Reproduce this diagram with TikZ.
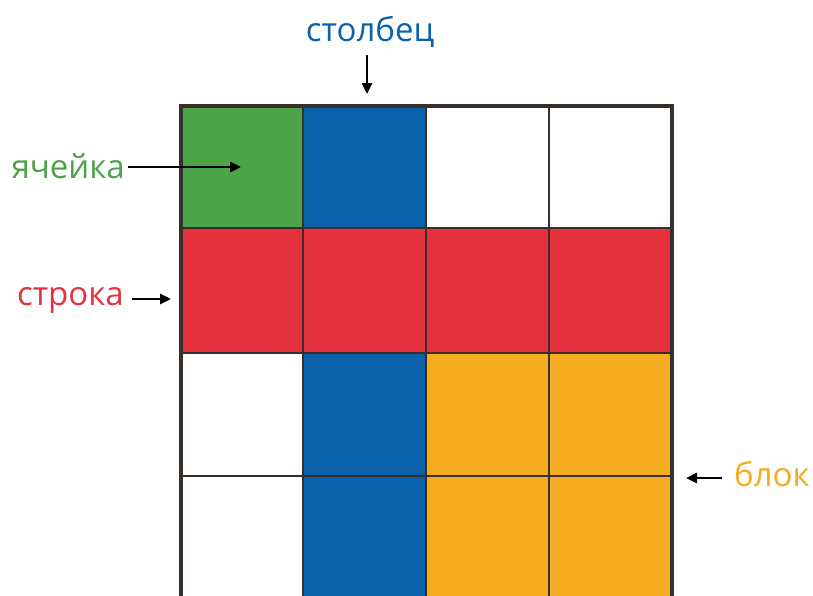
\documentclass[tikz,border=0pt]{standalone}
\usepackage{fontspec}
\setmainfont{Open Sans}
\usetikzlibrary{arrows.meta}
\definecolor{cgreen}{RGB}{76,164,72}
\definecolor{cblue}{RGB}{10,98,172}
\definecolor{cred}{RGB}{229,50,62}
\definecolor{corange}{RGB}{245,172,31}
\definecolor{cline}{RGB}{58,46,42}
\tikzset{
  lbl/.style={font=\fontsize{33}{38}\selectfont, inner sep=0pt},
  pointer/.style={-{Triangle[length=11pt,width=10pt]}, line width=2.6pt, black},
  thin grid/.style={cline, line width=1.6pt},
  outer/.style={cline, line width=3.5pt}
}
\begin{document}
\begin{tikzpicture}[x=1pt,y=-1pt]
\useasboundingbox (0,0) rectangle (813,595);
\begin{scope}
\clip (0,0) rectangle (813,595);
% fills
\fill[cgreen] (181,106) rectangle (303,228);
\fill[cblue] (303,106) rectangle (426,228);
\fill[cred] (181,228) rectangle (672,353);
\fill[cblue] (303,353) rectangle (426,600);
\fill[corange] (426,353) rectangle (672,600);
% inner lines
\draw[thin grid] (303,106) -- (303,600);
\draw[thin grid] (426,106) -- (426,600);
\draw[thin grid] (549,106) -- (549,600);
\draw[thin grid] (181,228) -- (672,228);
\draw[thin grid] (181,353) -- (672,353);
\draw[thin grid] (181,476) -- (672,476);
% outer border
\draw[outer] (181,600) -- (181,106) -- (672,106) -- (672,600);
\end{scope}
% labels
\node[lbl, text=cblue] (col) at (370,32) {столбец};
\node[lbl, text=cgreen, anchor=east] (cell) at (125,166) {ячейка};
\node[lbl, text=cred, anchor=east] (row) at (124,300) {строка};
\node[lbl, text=corange, anchor=west] (blk) at (734,474) {блок};
\coordinate (colT) at (367,94);
\coordinate (cellT) at (241,167);
\coordinate (rowT) at (171,299);
\coordinate (blkT) at (686,478);
\draw[pointer] (367,55) -- (colT);
\draw[pointer] (128,167) -- (cellT);
\draw[pointer] (132,299) -- (rowT);
\draw[pointer] (722,478) -- (blkT);
\end{tikzpicture}
\end{document}
